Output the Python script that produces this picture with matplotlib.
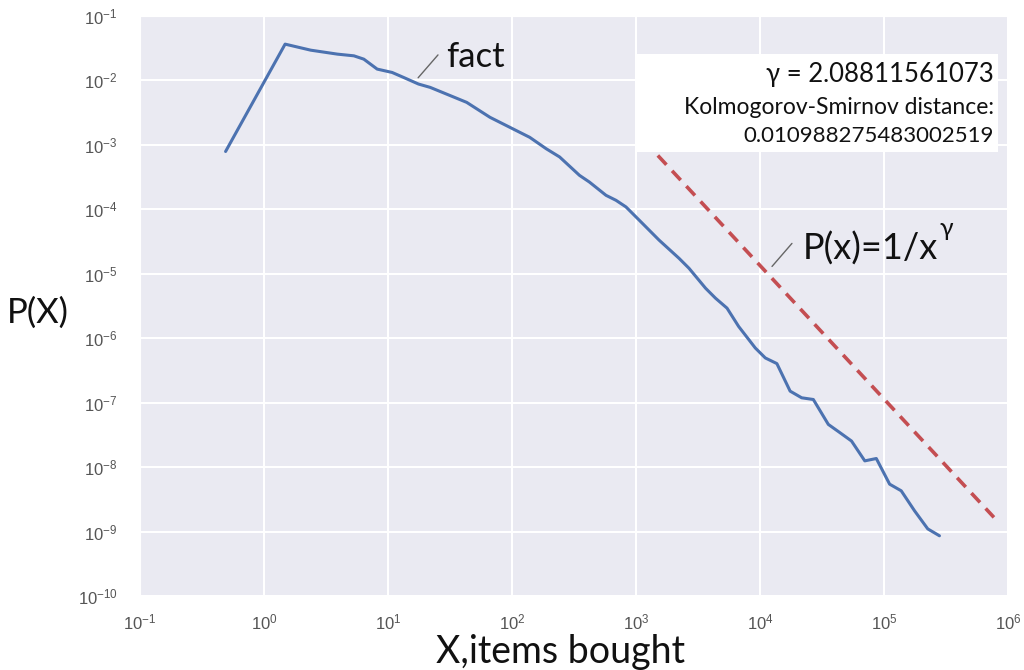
import matplotlib
matplotlib.use("Agg")
import matplotlib.pyplot as plt
import seaborn as sns
from matplotlib.ticker import LogLocator, NullLocator
from matplotlib.patches import Rectangle

# ---- data ----
items_x = [0.49, 1.48, 2.38, 3.91, 5.31, 6.38, 8.18, 10.8, 13.4, 17.6, 21.9,
           43.1, 66.4, 139, 189, 242, 350, 421, 573, 690, 830, 1061, 1535,
           2222, 2673, 3639, 4377, 5420, 6730, 9160, 11040, 13680, 17500,
           21680, 26920, 35560, 44060, 54700, 70000, 86700, 111000, 137700,
           176300, 225400, 280000]
prob_y = [7.9e-4, 3.66e-2, 2.95e-2, 2.56e-2, 2.41e-2, 2.14e-2, 1.50e-2,
          1.33e-2, 1.11e-2, 8.8e-3, 7.8e-3, 4.57e-3, 2.68e-3, 1.31e-3, 8.7e-4,
          6.5e-4, 3.37e-4, 2.65e-4, 1.65e-4, 1.38e-4, 1.09e-4, 6.8e-5, 3.33e-5,
          1.74e-5, 1.22e-5, 5.97e-6, 4.18e-6, 2.93e-6, 1.52e-6, 7.06e-7,
          4.94e-7, 4.04e-7, 1.51e-7, 1.19e-7, 1.12e-7, 4.60e-8, 3.43e-8,
          2.54e-8, 1.25e-8, 1.36e-8, 5.44e-9, 4.29e-9, 2.10e-9, 1.10e-9, 8.6e-10]

fit_x = [1500, 7.7e5]
fit_y = [6.85e-4, 1.66e-9]

gamma_text = "γ = 2.08811561073"
ks_label = "Kolmogorov-Smirnov distance:"
ks_value = "0.010988275483002519"

# ---- style ----
sns.set_style("darkgrid")
plt.rcParams['font.family'] = ['Liberation Sans', 'DejaVu Sans']
ANN = ['Lato', 'DejaVu Sans']

fig = plt.figure(figsize=(10.24, 6.70), dpi=100)
ax = fig.add_axes([140/1024, 1-596/670, 868/1024, 580/670])

ax.plot(items_x, prob_y, color='#4C72B0', lw=2.2, zorder=3)
ax.plot(fit_x, fit_y, color='#C44E52', lw=2.6, dashes=(3.5, 2.3), zorder=3)

ax.set_xscale('log')
ax.set_yscale('log')
ax.set_xlim(0.1, 1e6)
ax.set_ylim(1e-10, 1e-1)
ax.xaxis.set_major_locator(LogLocator(base=10, numticks=20))
ax.yaxis.set_major_locator(LogLocator(base=10, numticks=20))
ax.xaxis.set_minor_locator(NullLocator())
ax.yaxis.set_minor_locator(NullLocator())
ax.tick_params(axis='both', labelsize=12, labelcolor='#555555', length=0)
ax.tick_params(axis='y', pad=16)
ax.tick_params(axis='x', pad=12)
ax.grid(True, color='white', lw=1.5)

# white info box
ax.add_patch(Rectangle((0.5726, 0.766), 0.416, 0.169, transform=ax.transAxes,
                       facecolor='white', edgecolor='none', zorder=4))
ax.text(0.984, 0.8985, gamma_text, transform=ax.transAxes, ha='right', va='center',
        fontsize=18.5, family=ANN, color='#111111', zorder=5)
ax.text(0.984, 0.8417, ks_label, transform=ax.transAxes, ha='right', va='center',
        fontsize=16.5, family=ANN, color='#111111', zorder=5)
ax.text(0.984, 0.7935, ks_value, transform=ax.transAxes, ha='right', va='center',
        fontsize=16, family=ANN, color='#111111', zorder=5)

# annotations
ax.annotate('', xy=(17.5, 0.011), xytext=(25.3, 0.0249),
            arrowprops=dict(arrowstyle='-', color='#666666', lw=1, shrinkA=0, shrinkB=0),
            zorder=5)
ax.text(29.5, 0.0163, 'fact', fontsize=25, family=ANN, color='#111111',
        ha='left', va='baseline', zorder=5)

ax.annotate('', xy=(12500, 1.30e-5), xytext=(18100, 2.96e-5),
            arrowprops=dict(arrowstyle='-', color='#666666', lw=1, shrinkA=0, shrinkB=0),
            zorder=5)
t = ax.text(22200, 1.67e-5, 'P(x)=1/x', fontsize=26, family=ANN, color='#111111',
            ha='left', va='baseline', zorder=5)
ax.annotate('γ', xy=(1.0, 1.0), xycoords=t, xytext=(1, 2), textcoords='offset points',
            fontsize=18, family=ANN, color='#111111', ha='left', va='center', zorder=5)

fig.text(38/1024, 1-313/670, 'P(X)', fontsize=25, family=ANN, color='#111111',
         ha='center', va='center')
fig.text(561/1024, 1-663/670, 'X,items bought', fontsize=27, family=ANN,
         color='#111111', ha='center', va='baseline')

fig.savefig('out.png', dpi=100)
